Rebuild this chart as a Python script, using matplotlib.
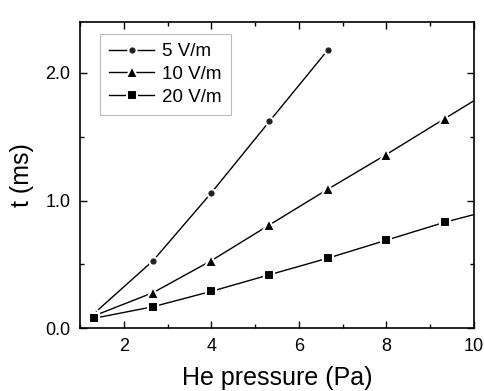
import matplotlib
matplotlib.use("Agg")
import matplotlib.pyplot as plt
from matplotlib.ticker import MultipleLocator

plt.rcParams['font.family'] = ['Liberation Sans', 'DejaVu Sans']

pressure = [1.33, 2.67, 4.0, 5.33, 6.67, 8.0, 9.33]
t_5 = [0.12, 0.53, 1.06, 1.62, 2.18]
t_10 = [0.10, 0.28, 0.53, 0.81, 1.09, 1.36, 1.64]
t_20 = [0.08, 0.17, 0.29, 0.42, 0.55, 0.69, 0.83]
# line continuation to the axis edge (x = 10)
edge_x = 10.0
edge_10 = 1.78
edge_20 = 0.89

fig = plt.figure(figsize=(4.85, 3.91), dpi=100)
ax = fig.add_axes([0.165, 0.16, 0.812, 0.785])

mew = 1.5
ax.plot(pressure[:len(t_5)], t_5, '-', color='black', lw=1.0,
        marker='o', ms=6, mfc='#222222', mec='white', mew=mew, label='5 V/m')
ax.plot(pressure + [edge_x], t_10 + [edge_10], '-', color='black', lw=1.0,
        marker='^', ms=8, mfc='black', mec='white', mew=mew,
        markevery=list(range(len(t_10))), label='10 V/m')
ax.plot(pressure + [edge_x], t_20 + [edge_20], '-', color='black', lw=1.0,
        marker='s', ms=7, mfc='black', mec='white', mew=mew,
        markevery=list(range(len(t_20))), label='20 V/m')

ax.set_xlim(1.0, 10.0)
ax.set_ylim(0.0, 2.4)
ax.xaxis.set_major_locator(MultipleLocator(2))
ax.xaxis.set_minor_locator(MultipleLocator(1))
ax.yaxis.set_major_locator(MultipleLocator(1.0))
ax.yaxis.set_minor_locator(MultipleLocator(0.5))
ax.yaxis.set_major_formatter(matplotlib.ticker.FormatStrFormatter('%.1f'))
ax.tick_params(which='both', direction='in', top=True, right=True,
               labeltop=False, labelright=False, labelsize=13, width=1.0)
ax.tick_params(which='major', length=5, pad=7)
ax.tick_params(which='minor', length=3)
for s in ax.spines.values():
    s.set_linewidth(1.2)

ax.set_xlabel('He pressure (Pa)', fontsize=18, labelpad=8)
ax.set_ylabel('t (ms)', fontsize=18, labelpad=8)

leg = ax.legend(loc='upper left', bbox_to_anchor=(0.05, 0.96), fontsize=13.5,
                frameon=True, fancybox=False, edgecolor='#aaaaaa',
                handlelength=2.4, handletextpad=0.4, labelspacing=0.3,
                borderpad=0.5, borderaxespad=0)
leg.get_frame().set_linewidth(0.8)

fig.savefig('out.png', dpi=100)
